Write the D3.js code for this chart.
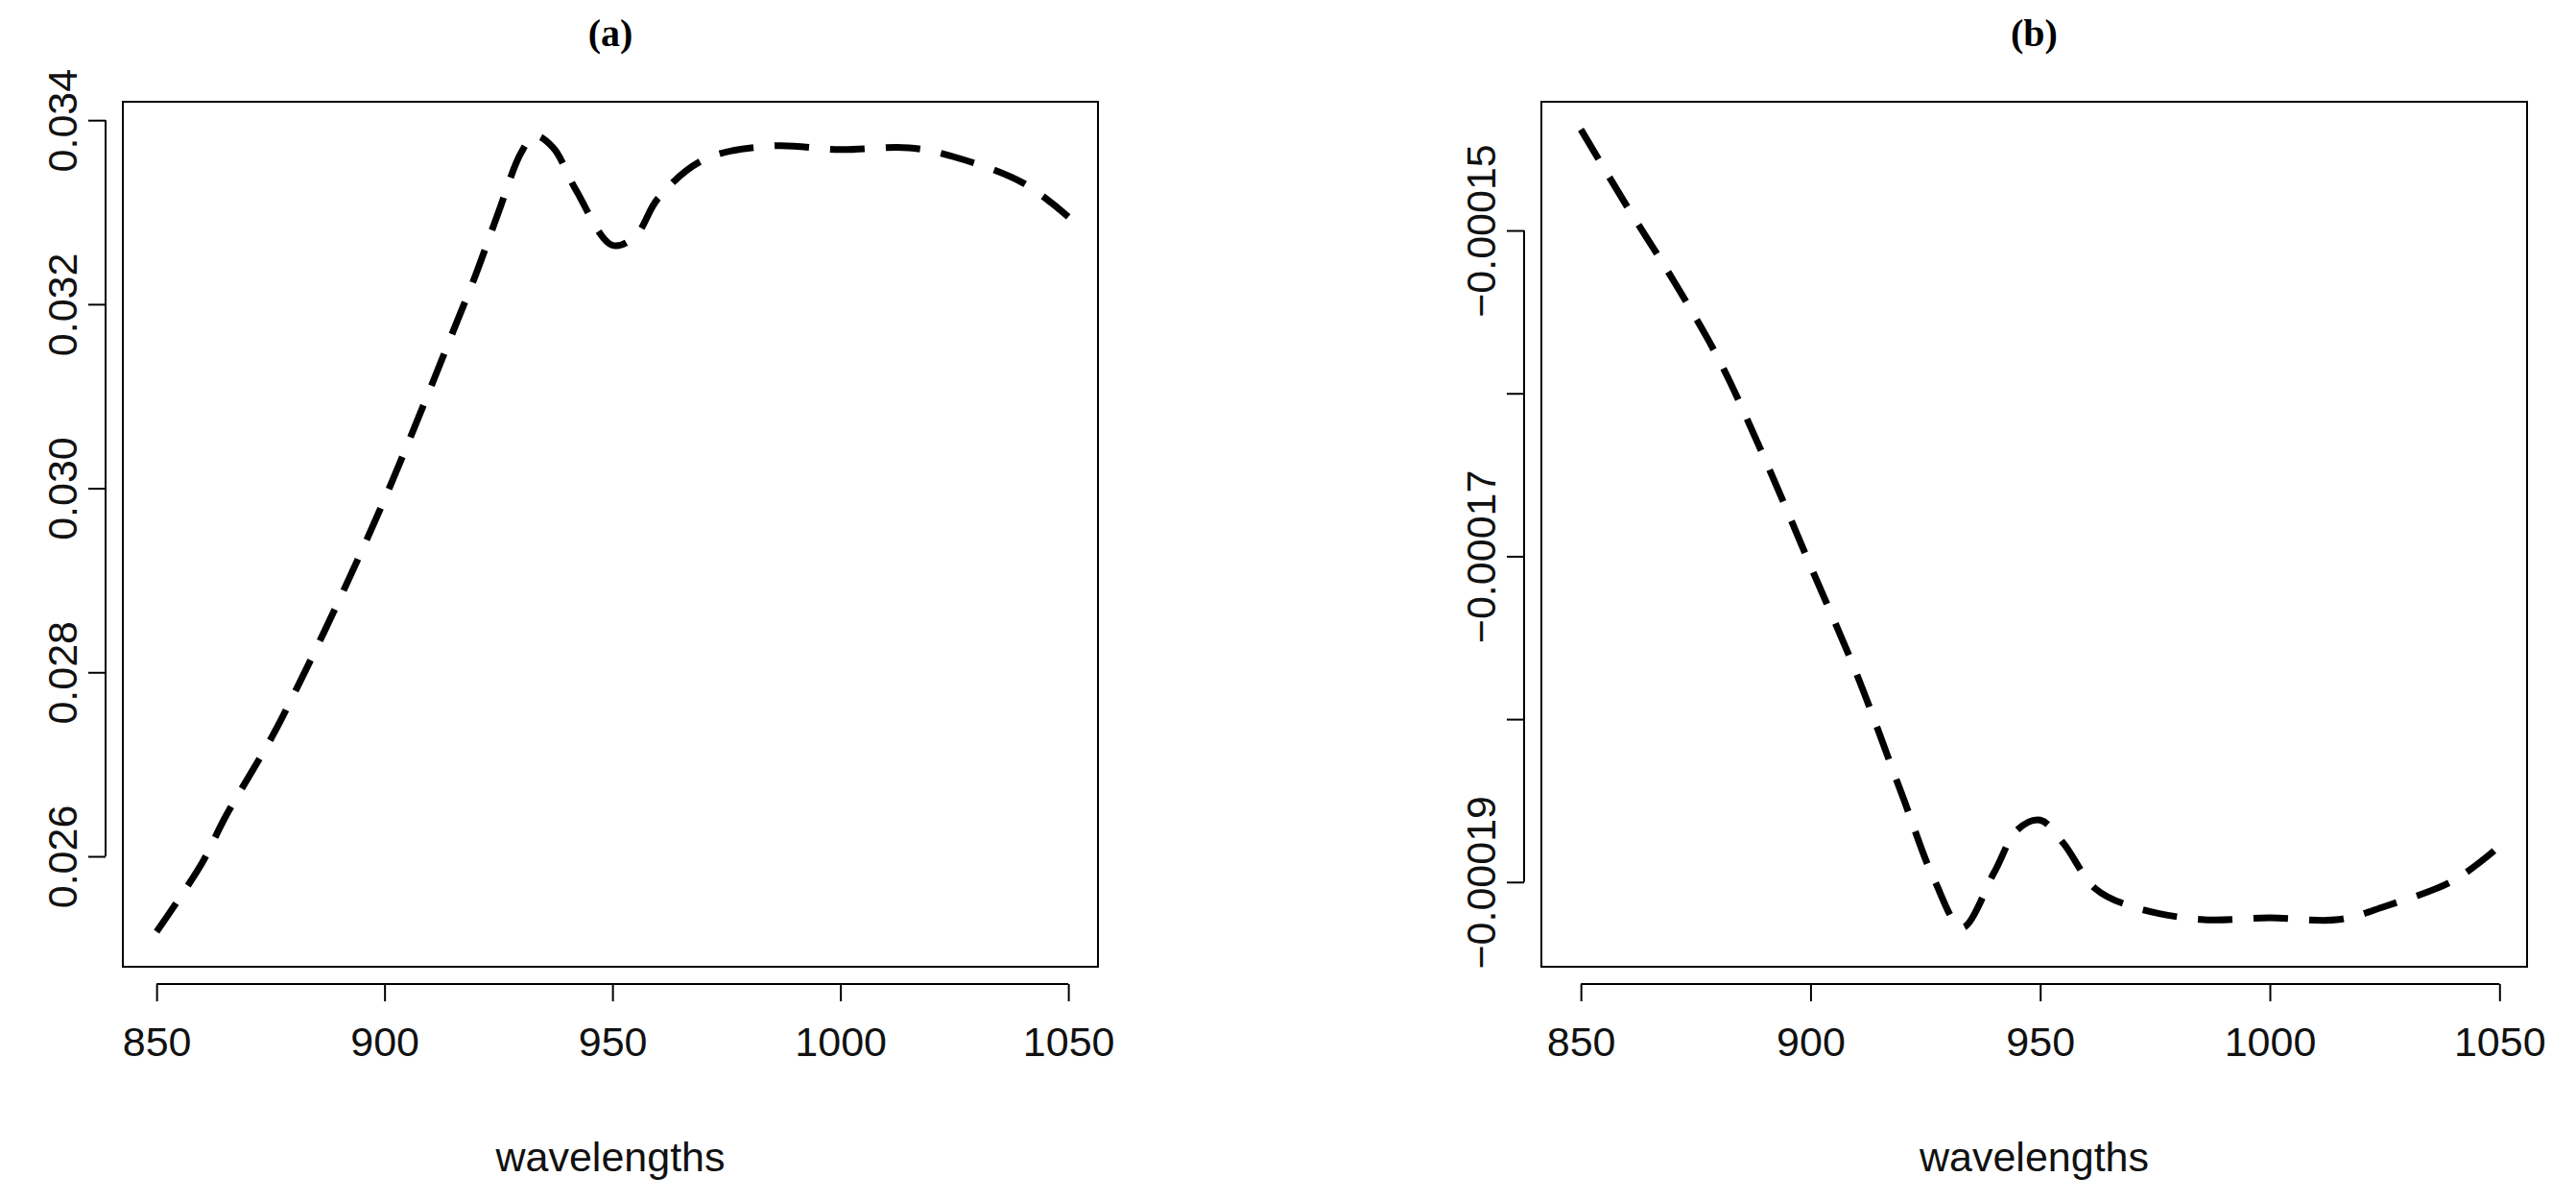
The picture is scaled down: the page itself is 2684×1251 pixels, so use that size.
<!DOCTYPE html>
<html><head><meta charset="utf-8">
<script src="https://cdn.jsdelivr.net/npm/d3@7"></script>
<style>body{margin:0;background:#fff}</style></head>
<body><svg id="c" width="2684" height="1251"></svg>
<script>
const wavelengthsA = [850,860,865,875,880,890,900,910,915,920,925,930,933,937,942,950,955,960,970,985,1000,1015,1025,1040,1050];
const valuesA = [0.02518,0.02593,0.02642,0.02727,0.02775,0.02878,0.02988,0.03108,0.03170,0.03232,0.03300,0.03365,0.03383,0.0337,0.03324,0.03264,0.03274,0.03315,0.03357,0.03372,0.03368,0.0337,0.0336,0.03332,0.03295];
const wavelengthsB = [850,860,870,880,890,900,910,920,927,933,940,945,950,955,962,970,985,1000,1015,1025,1040,1050];
const valuesB = [-0.0001438,-0.0001485,-0.000153,-0.0001579,-0.000164,-0.0001706,-0.0001772,-0.0001847,-0.0001899,-0.0001928,-0.0001894,-0.0001868,-0.0001862,-0.0001876,-0.0001904,-0.0001915,-0.0001923,-0.0001922,-0.0001923,-0.0001915,-0.0001899,-0.0001878];
const xTicks = [850,900,950,1000,1050];
const yTicksA = [0.026,0.028,0.030,0.032,0.034];
const yTicksB = [-0.00015,-0.00016,-0.00017,-0.00018,-0.00019];
const yLabelsB = ["-0.00015","","-0.00017","","-0.00019"];
const svg = d3.select("#c");
function panel(cfg){
  const g = svg.append("g");
  const x = d3.scaleLinear().domain(cfg.xd).range([cfg.l,cfg.r]);
  const y = d3.scaleLinear().domain(cfg.yd).range([cfg.b,cfg.t]);
  g.append("rect").attr("x",cfg.l).attr("y",cfg.t).attr("width",cfg.r-cfg.l).attr("height",cfg.b-cfg.t).attr("fill","none").attr("stroke","#000").attr("stroke-width",2);
  const ax = g.append("g").attr("transform",`translate(0,${cfg.b+18})`).call(d3.axisBottom(x).tickValues(xTicks).tickSize(18).tickFormat(d3.format("d")));
  ax.select(".domain").attr("d",`M${x(850)},0H${x(1050)}`).attr("stroke-width",2);
  ax.selectAll(".tick line").attr("stroke-width",2);
  ax.selectAll("text").attr("font-family","Liberation Sans, Arial").attr("font-size",43).attr("dy","1.25em").attr("fill","#111");
  const ay = g.append("g").attr("transform",`translate(${cfg.l-18},0)`).call(d3.axisLeft(y).tickValues(cfg.yt).tickSize(18).tickFormat((d,i)=>cfg.yl[i]));
  ay.select(".domain").attr("d",`M0,${y(cfg.yt[0])}V${y(cfg.yt[cfg.yt.length-1])}`).attr("stroke-width",2);
  ay.selectAll(".tick line").attr("stroke-width",2);
  ay.selectAll("text").attr("font-family","Liberation Sans, Arial").attr("font-size",43).attr("fill","#111")
    .attr("transform","rotate(-90)").attr("x",0).attr("y",-30).attr("dy",0).attr("text-anchor","middle");
  g.append("text").attr("x",(cfg.l+cfg.r)/2).attr("y",1220).attr("text-anchor","middle").attr("font-family","Liberation Sans, Arial").attr("font-size",43).attr("fill","#111").text("wavelengths");
  g.append("text").attr("x",(cfg.l+cfg.r)/2).attr("y",48).attr("text-anchor","middle").attr("font-family","Liberation Serif, Times New Roman").attr("font-weight","bold").attr("font-size",40).text(cfg.title);
  const line = d3.line().x(d=>x(d[0])).y(d=>y(d[1])).curve(d3.curveCatmullRom);
  g.append("path").datum(cfg.xs.map((v,i)=>[v,cfg.ys[i]])).attr("d",line).attr("fill","none").attr("stroke","#000").attr("stroke-width",7).attr("stroke-dasharray","36,22");
}
panel({l:128,r:1144,t:106,b:1007,xd:[842.6,1056.5],yd:[0.0248,0.0342],yt:yTicksA,yl:yTicksA.map(d3.format(".3f")),xs:wavelengthsA,ys:valuesA,title:"(a)"});
panel({l:1606,r:2633,t:106,b:1007,xd:[841.4,1056],yd:[-0.0001952,-0.0001421],yt:yTicksB,yl:yLabelsB.map(s=>s.replace("-","\u2212")),xs:wavelengthsB,ys:valuesB,title:"(b)"});
</script></body></html>
